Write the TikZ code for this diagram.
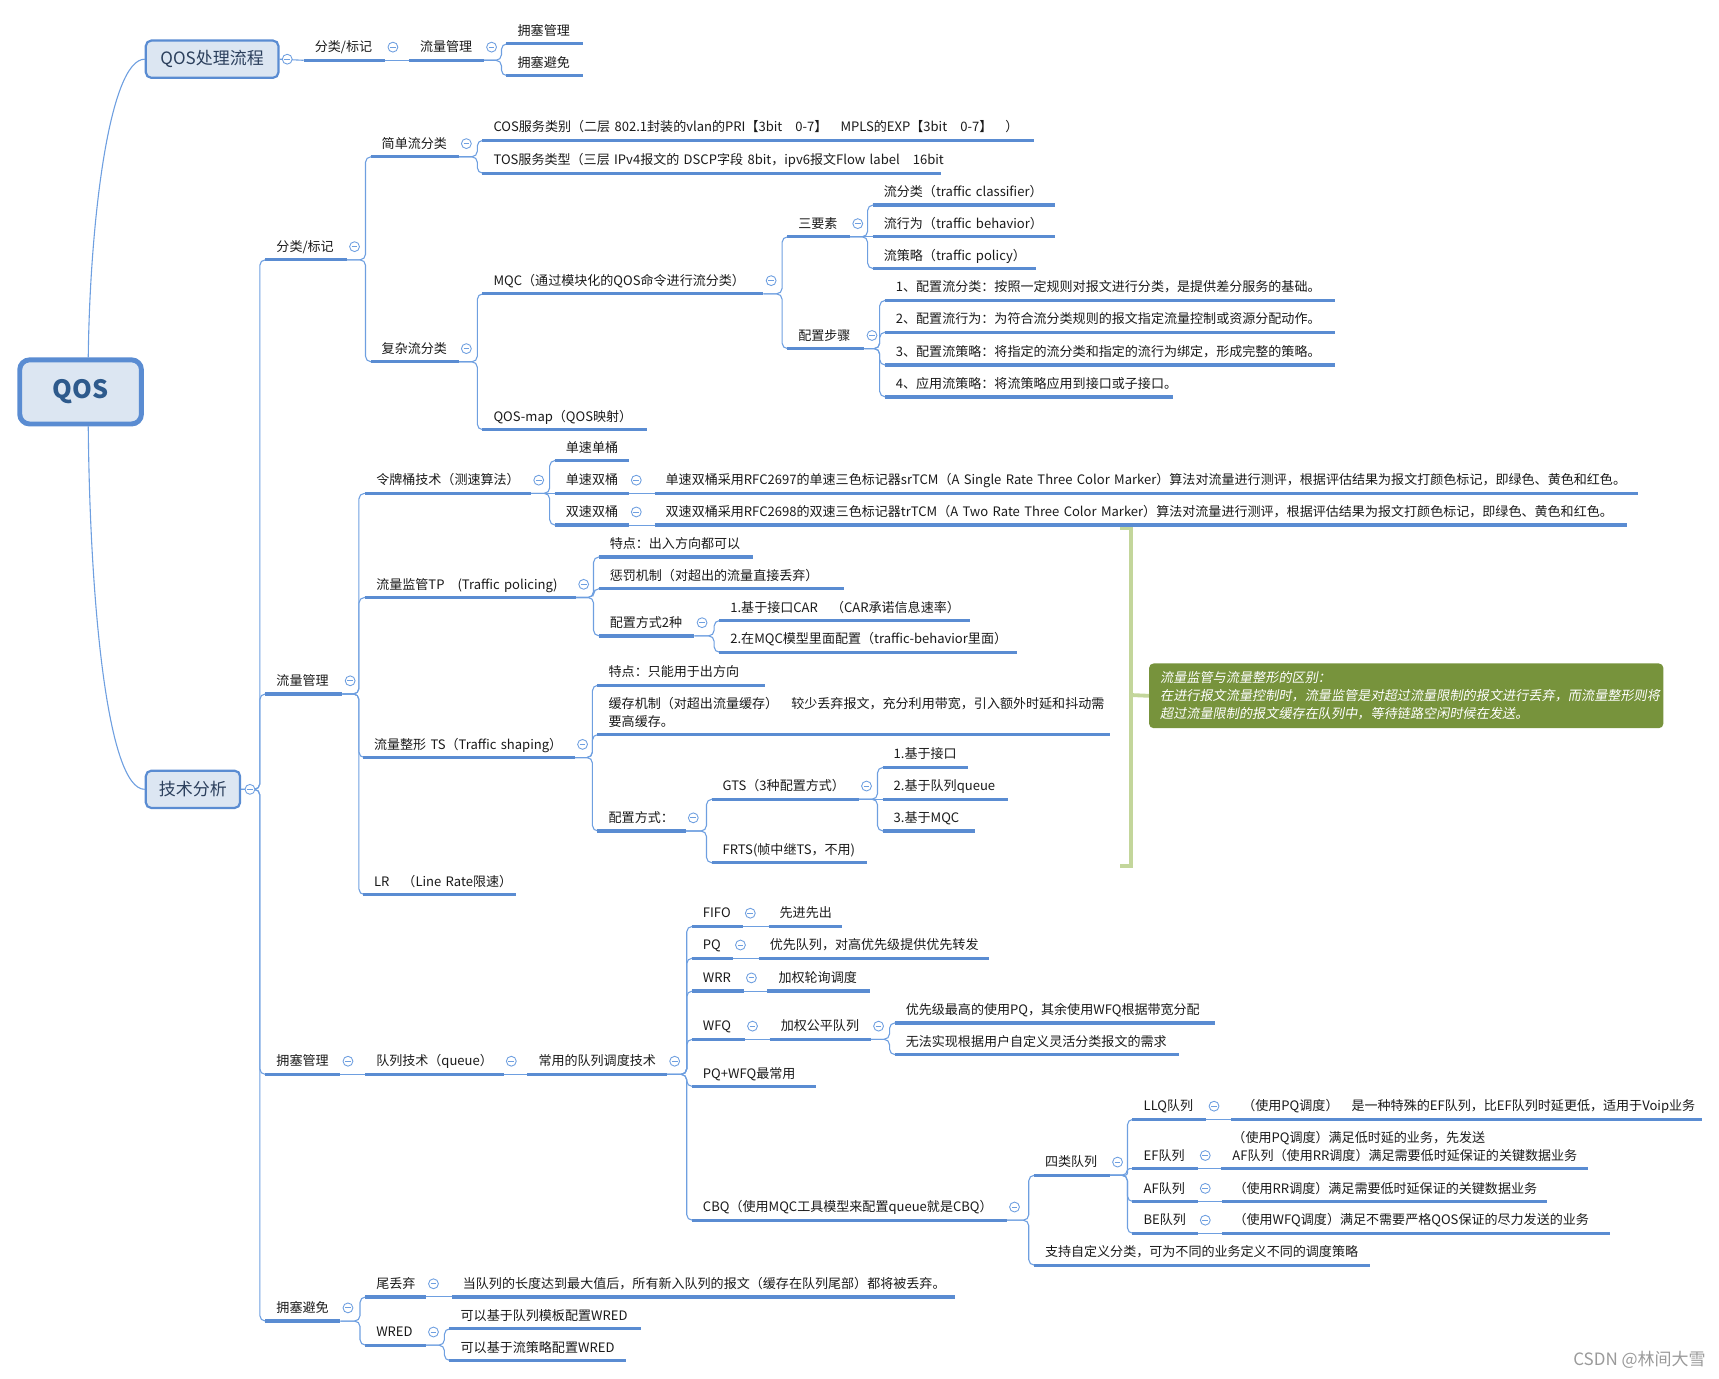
\documentclass[tikz,border=0pt]{standalone}
\usepackage{fontspec}
\setmainfont{Noto Sans CJK SC}
\newfontfamily\notefont[FakeSlant=0.18]{Noto Sans CJK SC}
\definecolor{ulb}{HTML}{5A8CD2}
\definecolor{cnb}{HTML}{6E9FE0}
\definecolor{bxf}{HTML}{DCE6F2}
\definecolor{bxd}{HTML}{5A8CD2}
\definecolor{qtx}{HTML}{2E5A8C}
\definecolor{ptx}{HTML}{2B3F5C}
\definecolor{txt}{HTML}{1A1A1A}
\definecolor{grn}{HTML}{C3D69B}
\definecolor{olv}{HTML}{77933C}
\definecolor{wmk}{HTML}{9A9A9A}
\pgfdeclarelayer{bg}
\pgfsetlayers{bg,main}
\newcommand\brn[3]{\foreach \kid in {#3}{\draw[conn] (#1.south east) -- ++(#2,0) |- ([xshift=6pt]\kid.south west);}}
\begin{document}
\begin{tikzpicture}[x=1pt,y=-1pt,
  ulline/.style={draw=ulb,line width=3pt},
  itb/.style={anchor=south west,inner xsep=10pt,inner ysep=5pt,text width={(#1-20)*1pt},align=left,
    font=\fontsize{11.9}{16}\selectfont,text=txt,
    append after command={(\tikzlastnode.south west) edge[ulline] (\tikzlastnode.south east)}},
  it/.style={itb=#1,text depth=2.5pt,execute at begin node={\hbox\bgroup},execute at end node={\egroup}},
  it2/.style={itb=#1,text depth=18.5pt},
  conn/.style={draw=cnb,line width=1pt,rounded corners=5pt},
  mk/.style={circle,draw=cnb,fill=white,line width=0.8pt,minimum size=9pt,inner sep=0pt,
    path picture={\draw[cnb,line width=0.8pt] ([xshift=-2.6pt]path picture bounding box.center) -- ([xshift=2.6pt]path picture bounding box.center);}},
  box/.style={draw=bxd,fill=bxf,inner sep=0pt}
]
\useasboundingbox (0,0) rectangle (1568,1257);

% boxes
\node[box,minimum width=111pt,minimum height=58.5pt,line width=4.5pt,rounded corners=9pt,font=\fontsize{23}{23}\selectfont\bfseries,text=qtx] (qos) at (73.5,357.5) {QOS};
\node[box,minimum width=121pt,minimum height=34pt,line width=2pt,rounded corners=5pt,font=\fontsize{15.5}{15.5}\selectfont,text=ptx] (proc) at (193.5,54) {QOS处理流程};
\node[box,minimum width=86pt,minimum height=34pt,line width=2pt,rounded corners=5pt,font=\fontsize{15.5}{15.5}\selectfont,text=ptx] (tech) at (176,720) {技术分析};

% top branch
\node[it=74] (t_fl) at (277,55) {分类/标记};
\node[it=68] (t_ll) at (373,55) {流量管理};
\node[it=69] (t_ys) at (462,40) {拥塞管理};
\node[it=69] (t_yb) at (462,69) {拥塞避免};

% level 2
\node[it=74] (n_fl) at (242,237) {分类/标记};
\node[it=70] (n_ll) at (242,633) {流量管理};
\node[it=68] (n_yg) at (242,980) {拥塞管理};
\node[it=68] (n_yb) at (242,1205) {拥塞避免};

% classification
\node[it=80] (n_jd) at (338,143) {简单流分类};
\node[it=80] (n_fz) at (338,330) {复杂流分类};
\node[it=503] (n_cos) at (440,128) {COS服务类别（二层 802.1封装的vlan的PRI【3bit　0-7】　MPLS的EXP【3bit　0-7】　）};
\node[it=418] (n_tos) at (440,158) {TOS服务类型（三层 IPv4报文的 DSCP字段 8bit，ipv6报文Flow label　16bit};
\node[it=256] (n_mqc) at (440,268) {MQC（通过模块化的QOS命令进行流分类）};
\node[it=150] (n_map) at (440,392) {QOS-map（QOS映射）};
\node[it=57] (n_sys) at (718,216) {三要素};
\node[it=70] (n_pz) at (718,318) {配置步骤};
\node[it=166] (n_c1) at (796,187) {流分类（traffic classifier）};
\node[it=166] (n_c2) at (796,216) {流行为（traffic behavior）};
\node[it=149] (n_c3) at (796,245) {流策略（traffic policy）};
\node[it=410] (n_s1) at (807,274) {1、配置流分类：按照一定规则对报文进行分类，是提供差分服务的基础。};
\node[it=410] (n_s2) at (807,303) {2、配置流行为：为符合流分类规则的报文指定流量控制或资源分配动作。};
\node[it=410] (n_s3) at (807,333) {3、配置流策略：将指定的流分类和指定的流行为绑定，形成完整的策略。};
\node[it=263] (n_s4) at (807,362) {4、应用流策略：将流策略应用到接口或子接口。};

% traffic management
\node[it=151] (n_lp) at (333,450) {令牌桶技术（测速算法）};
\node[it=192] (n_tp) at (333,545) {流量监管TP　(Traffic policing)};
\node[it=193] (n_ts) at (331,691) {流量整形 TS（Traffic shaping）};
\node[it=139] (n_lr) at (331,816) {LR　（Line Rate限速）};
\node[it=67] (n_dd) at (506,420) {单速单桶};
\node[it=67] (n_ds) at (506,450) {单速双桶};
\node[it=67] (n_ss) at (506,479) {双速双桶};
\node[it=897] (n_dsd) at (597,450) {单速双桶采用RFC2697的单速三色标记器srTCM（A Single Rate Three Color Marker）算法对流量进行测评，根据评估结果为报文打颜色标记，即绿色、黄色和红色。};
\node[it=887] (n_ssd) at (597,479) {双速双桶采用RFC2698的双速三色标记器trTCM（A Two Rate Three Color Marker）算法对流量进行测评，根据评估结果为报文打颜色标记，即绿色、黄色和红色。};
\node[it=140] (n_tp1) at (546,508) {特点：出入方向都可以};
\node[it=223] (n_tp2) at (546,537) {惩罚机制（对超出的流量直接丢弃）};
\node[it=87] (n_tp3) at (546,580) {配置方式2种};
\node[it=228] (n_car) at (656,566) {1.基于接口CAR　（CAR承诺信息速率）};
\node[it=271] (n_mqcb) at (656,595) {2.在MQC模型里面配置（traffic-behavior里面）};
\node[it=152] (n_ts1) at (545,625) {特点：只能用于出方向};
\node[it2=467] (n_ts2) at (545,670) {缓存机制（对超出流量缓存）　较少丢弃报文，充分利用带宽，引入额外时延和抖动需\\要高缓存。};
\node[it=80] (n_ts3) at (545,758) {配置方式：};
\node[it=134] (n_gts) at (649,729) {GTS（3种配置方式）};
\node[it=141] (n_frts) at (649,787) {FRTS(帧中继TS，不用)};
\node[it=78] (n_g1) at (805,700) {1.基于接口};
\node[it=114] (n_g2) at (805,729) {2.基于队列queue};
\node[it=84] (n_g3) at (805,758) {3.基于MQC};

% congestion management
\node[it=126] (n_q) at (333,980) {队列技术（queue）};
\node[it=127] (n_cy) at (481,980) {常用的队列调度技术};
\node[it=46] (n_fifo) at (631,845) {FIFO};
\node[it=67] (n_fifod) at (701,845) {先进先出};
\node[it=37] (n_pq) at (631,874) {PQ};
\node[it=210] (n_pqd) at (692,874) {优先队列，对高优先级提供优先转发};
\node[it=47] (n_wrr) at (631,904) {WRR};
\node[it=93] (n_wrrd) at (700,904) {加权轮询调度};
\node[it=48] (n_wfq) at (631,948) {WFQ};
\node[it=92] (n_wfqd) at (702,948) {加权公平队列};
\node[it=292] (n_w1) at (816,933) {优先级最高的使用PQ，其余使用WFQ根据带宽分配};
\node[it=259] (n_w2) at (816,962) {无法实现根据用户自定义灵活分类报文的需求};
\node[it=113] (n_pw) at (631,991) {PQ+WFQ最常用};
\node[it=287] (n_cbq) at (631,1113) {CBQ（使用MQC工具模型来配置queue就是CBQ）};
\node[it=69] (n_4q) at (943,1072) {四类队列};
\node[it=306] (n_zd) at (943,1154) {支持自定义分类，可为不同的业务定义不同的调度策略};
\node[it=67] (n_llq) at (1033,1021) {LLQ队列};
\node[it=429] (n_llqd) at (1123,1021) {（使用PQ调度）　是一种特殊的EF队列，比EF队列时延更低，适用于Voip业务};
\node[it=59] (n_ef) at (1033,1066) {EF队列};
\node[it2=334] (n_efd) at (1114,1066) {（使用PQ调度）满足低时延的业务，先发送\\AF队列（使用RR调度）满足需要低时延保证的关键数据业务};
\node[it=59] (n_af) at (1033,1096) {AF队列};
\node[it=296] (n_afd) at (1115,1096) {（使用RR调度）满足需要低时延保证的关键数据业务};
\node[it=59] (n_be) at (1033,1125) {BE队列};
\node[it=353] (n_bed) at (1115,1125) {（使用WFQ调度）满足不需要严格QOS保证的尽力发送的业务};

% congestion avoidance
\node[it=55] (n_wd) at (333,1183) {尾丢弃};
\node[it=459] (n_wdd) at (412,1183) {当队列的长度达到最大值后，所有新入队列的报文（缓存在队列尾部）都将被丢弃。};
\node[it=55] (n_wred) at (333,1227) {WRED};
\node[it=174] (n_r1) at (410,1212) {可以基于队列模板配置WRED};
\node[it=161] (n_r2) at (410,1241) {可以基于流策略配置WRED};

% note and bracket
\node[anchor=north west,fill=olv,rounded corners=4pt,minimum width=469pt,minimum height=59pt,text width=449pt,inner xsep=10pt,align=left,text=white,font=\notefont\fontsize{12}{16.5}\selectfont] (note) at (1048,605) {流量监管与流量整形的区别：\\在进行报文流量控制时，流量监管是对超过流量限制的报文进行丢弃，而流量整形则将\\超过流量限制的报文缓存在队列中，等待链路空闲时候在发送。};
\coordinate (bt) at (1022,482);
\coordinate (bb) at (1022,790);
\coordinate (bm) at (1032,634);
\draw[grn,line width=3.5pt] (bt) -- (1032,482) -- (1032,790) -- (bb);
\draw[grn,line width=3.5pt] (bm) -- (note.west);

% watermark
\node[anchor=east,text=wmk,font=\fontsize{15.5}{15.5}\selectfont,inner sep=0pt] (wm) at (1556,1240) {CSDN @林间大雪};

% connectors
\begin{pgfonlayer}{bg}
\draw[cnb,line width=1pt] ([xshift=7pt]qos.north) .. controls (82,200) and (100,54) .. (proc.west);
\draw[cnb,line width=1pt] ([xshift=7pt]qos.south) .. controls (82,550) and (98,720) .. (tech.west);
\draw[conn] (proc.east) -- (t_fl.south west);
\draw[conn] (t_fl.south east) -- (t_ll.south west);
\brn{t_ll}{16}{t_ys,t_yb}
\foreach \kid in {n_fl,n_ll,n_yg,n_yb}{\draw[conn] (tech.east) -- ++(17,0) |- ([xshift=6pt]\kid.south west);}
\brn{n_fl}{17}{n_jd,n_fz}
\brn{n_jd}{17}{n_cos,n_tos}
\brn{n_fz}{17}{n_mqc,n_map}
\brn{n_mqc}{17}{n_sys,n_pz}
\brn{n_sys}{16}{n_c1,n_c3}
\draw[conn] (n_sys.south east) -- (n_c2.south west);
\brn{n_pz}{14}{n_s1,n_s2,n_s3,n_s4}
\brn{n_ll}{15}{n_lp,n_tp,n_ts,n_lr}
\brn{n_lp}{17}{n_dd,n_ss}
\draw[conn] (n_lp.south east) -- (n_ds.south west);
\draw[conn] (n_ds.south east) -- (n_dsd.south west);
\draw[conn] (n_ss.south east) -- (n_ssd.south west);
\brn{n_tp}{16}{n_tp1,n_tp2,n_tp3}
\brn{n_tp3}{18}{n_car,n_mqcb}
\brn{n_ts}{16}{n_ts1,n_ts2,n_ts3}
\brn{n_ts3}{19}{n_gts,n_frts}
\brn{n_gts}{17}{n_g1,n_g3}
\draw[conn] (n_gts.south east) -- (n_g2.south west);
\draw[conn] (n_yg.south east) -- (n_q.south west);
\draw[conn] (n_q.south east) -- (n_cy.south west);
\brn{n_cy}{18}{n_fifo,n_pq,n_wrr,n_wfq,n_pw,n_cbq}
\draw[conn] (n_fifo.south east) -- (n_fifod.south west);
\draw[conn] (n_pq.south east) -- (n_pqd.south west);
\draw[conn] (n_wrr.south east) -- (n_wrrd.south west);
\draw[conn] (n_wfq.south east) -- (n_wfqd.south west);
\brn{n_wfqd}{17}{n_w1,n_w2}
\brn{n_cbq}{20}{n_4q,n_zd}
\brn{n_4q}{16}{n_llq,n_af,n_be}
\draw[conn,rounded corners=2pt] (n_4q.south east) -- ++(16,0) |- ([xshift=6pt]n_ef.south west);
\draw[conn] (n_llq.south east) -- (n_llqd.south west);
\draw[conn] (n_ef.south east) -- (n_efd.south west);
\draw[conn] (n_af.south east) -- (n_afd.south west);
\draw[conn] (n_be.south east) -- (n_bed.south west);
\brn{n_yb}{18}{n_wd,n_wred}
\draw[conn] (n_wd.south east) -- (n_wdd.south west);
\brn{n_wred}{17}{n_r1,n_r2}
\end{pgfonlayer}

% collapse markers
\foreach \nd in {t_fl,t_ll,n_fl,n_ll,n_yg,n_yb,n_jd,n_fz,n_mqc,n_sys,n_pz,n_lp,n_ds,n_ss,n_tp,n_tp3,n_ts,n_ts3,n_gts,n_q,n_cy,n_fifo,n_pq,n_wrr,n_wfq,n_wfqd,n_cbq,n_4q,n_llq,n_ef,n_af,n_be,n_wd,n_wred}{\path (\nd.south east) ++(7,-12) node[mk] {};}
\path (proc.east) ++(7,0) node[mk] {};
\path (tech.east) ++(8,0) node[mk] {};
\end{tikzpicture}
\end{document}
